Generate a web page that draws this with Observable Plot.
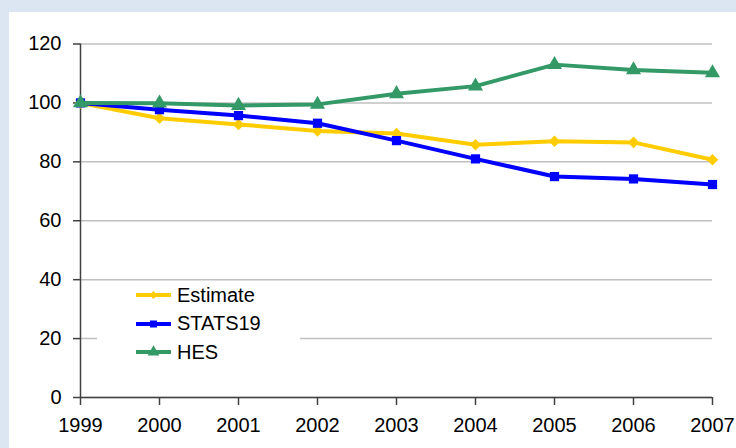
<!DOCTYPE html>
<html>
<head>
<meta charset="utf-8">
<script src="https://cdn.jsdelivr.net/npm/d3@7"></script>
<script src="https://cdn.jsdelivr.net/npm/@observablehq/plot@0.6"></script>
<style>
  html, body { margin: 0; padding: 0; background: #dce6f2; }
  #wrap { position: relative; width: 736px; height: 448px; overflow: hidden; background: #dce6f2; }
  #chart svg { position: absolute; left: 9px; top: 12px; }
  #legend { position: absolute; left: 97px; top: 281px; width: 203px; height: 86px; background: #fff;
            font-family: 'Liberation Sans', Arial, sans-serif; font-size: 20px; color: #000; }
  .row { display: flex; align-items: center; height: 28.5px; }
  .row svg { display: block; margin-left: 39px; margin-right: 6px; }
</style>
</head>
<body>
<div id="wrap">
  <div id="chart"></div>
  <div id="legend"></div>
</div>
<script>
const years = [1999, 2000, 2001, 2002, 2003, 2004, 2005, 2006, 2007];
const estimate = [100, 94.8, 92.7, 90.5, 89.6, 85.8, 87.0, 86.6, 80.7];
const stats19  = [100, 97.7, 95.7, 93.1, 87.2, 81.0, 75.0, 74.2, 72.3];
const hes      = [100, 99.9, 99.1, 99.5, 103.1, 105.7, 113.0, 111.2, 110.2];
const yTicks = [0, 20, 40, 60, 80, 100, 120];

const seriesNames = ["Estimate", "STATS19", "HES"];
const seriesValues = [estimate, stats19, hes];
const seriesColors = ["#FFCC00", "#0000FF", "#339966"];
const seriesSymbols = ["diamond2", "square", "triangle"];
const seriesR = [5.2, 5.2, 5.6];

const series = seriesNames.map((name, i) => ({
  name, color: seriesColors[i], symbol: seriesSymbols[i], r: seriesR[i],
  rows: years.map((year, j) => ({ series: name, year, value: seriesValues[i][j] }))
}));

const axisColor = "#404040";

const chart = Plot.plot({
  width: 727,
  height: 436,
  marginLeft: 71,
  marginRight: 24,
  marginTop: 31.5,
  marginBottom: 51,
  x: { domain: [1999, 2007] },
  y: { domain: [0, 120] },
  style: { fontFamily: "'Liberation Sans', Arial, sans-serif", fontSize: "20px", color: "#000", background: "#fff", overflow: "visible" },
  marks: [
    Plot.gridY(yTicks, { stroke: "#c0c0c0", strokeOpacity: 1, strokeWidth: 1.5 }),
    Plot.axisY(yTicks, { tickSize: 7, tickPadding: 12, stroke: axisColor, strokeWidth: 1.5, fontSize: 20, label: null }),
    Plot.axisX(years, { tickSize: 8, tickPadding: 12, stroke: axisColor, strokeWidth: 1.5, fontSize: 20, tickFormat: d => String(d), label: null }),
    Plot.ruleX([1999], { stroke: axisColor, strokeWidth: 1.5 }),
    Plot.ruleY([0], { stroke: axisColor, strokeWidth: 1.5 }),
    ...series.flatMap(s => [
      Plot.line(s.rows, { x: "year", y: "value", stroke: s.color, strokeWidth: 4 }),
      Plot.dot(s.rows, { x: "year", y: "value", fill: s.color, symbol: s.symbol, r: s.r, stroke: null })
    ])
  ]
});
document.getElementById("chart").appendChild(chart);

const legend = document.getElementById("legend");
const symMap = { diamond2: d3.symbolDiamond2, square: d3.symbolSquare, triangle: d3.symbolTriangle };
series.forEach(s => {
  const row = document.createElement("div");
  row.className = "row";
  const size = s.symbol === "diamond2" ? 40 : s.symbol === "square" ? 49 : 60;
  const path = d3.symbol(symMap[s.symbol], size)();
  row.innerHTML = `<svg width="35" height="14" viewBox="0 0 35 14">
      <line x1="0" y1="7" x2="35" y2="7" stroke="${s.color}" stroke-width="4"/>
      <path d="${path}" transform="translate(17.5,7)" fill="${s.color}"/>
    </svg><span>${s.name}</span>`;
  legend.appendChild(row);
});
</script>
</body>
</html>
